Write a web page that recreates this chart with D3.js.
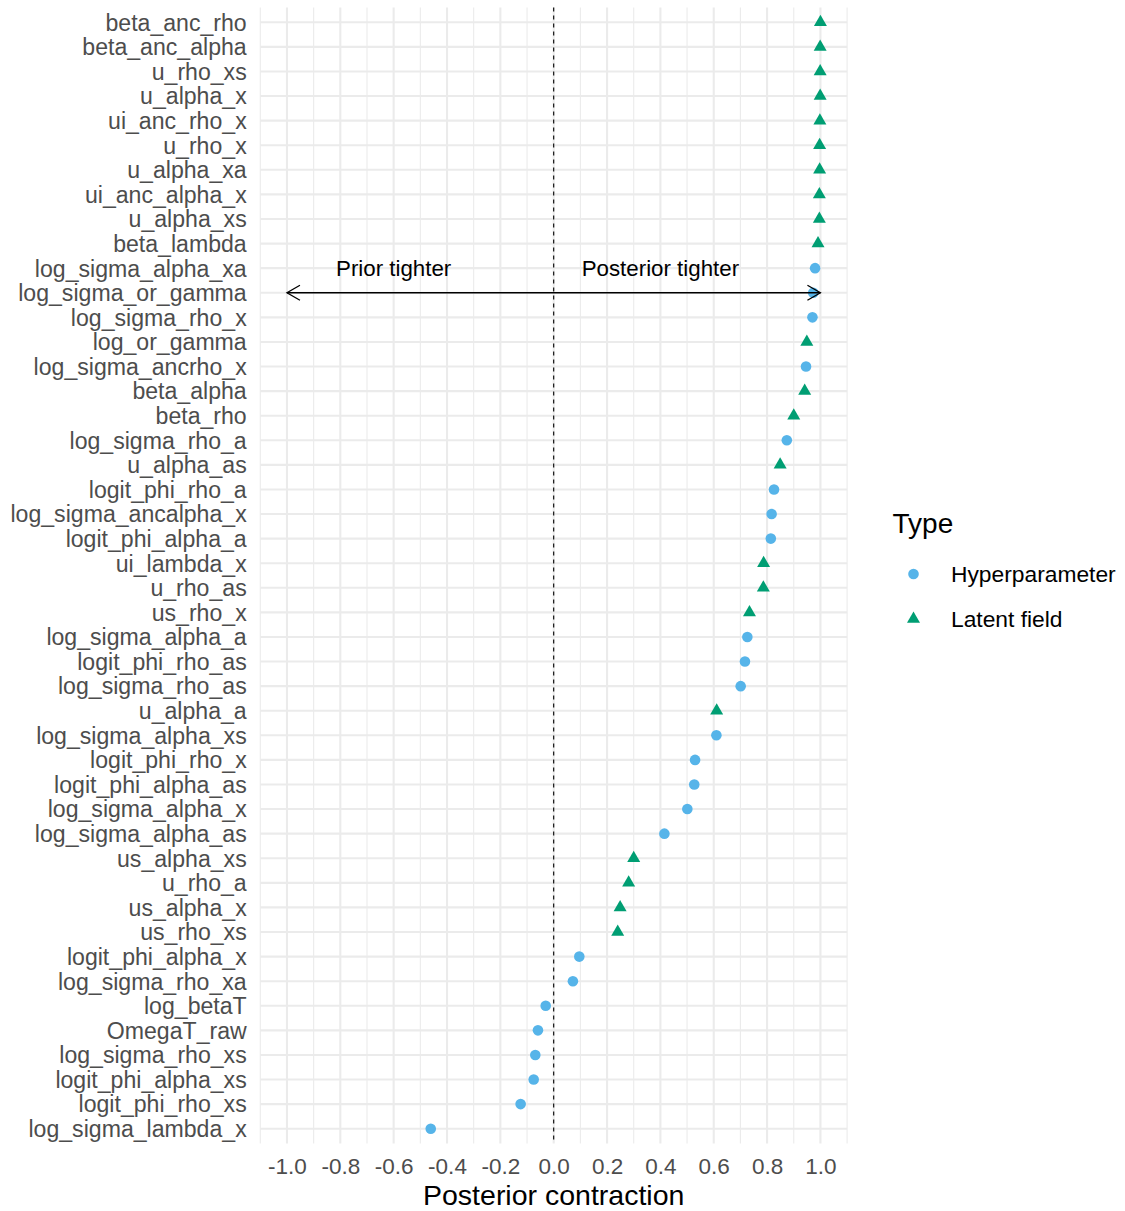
<!DOCTYPE html>
<html>
<head>
<meta charset="utf-8">
<script src="https://cdn.jsdelivr.net/npm/d3@7"></script>
<style>
  body { margin: 0; background: #ffffff; }
  svg { display: block; font-family: "Liberation Sans", Arial, Helvetica, sans-serif; }
</style>
</head>
<body>
<svg id="chart" width="1125" height="1211"></svg>
<script>
// Parameters, listed top to bottom as they appear on the y axis
const parameters = [
  "beta_anc_rho", "beta_anc_alpha", "u_rho_xs", "u_alpha_x", "ui_anc_rho_x",
  "u_rho_x", "u_alpha_xa", "ui_anc_alpha_x", "u_alpha_xs", "beta_lambda",
  "log_sigma_alpha_xa", "log_sigma_or_gamma", "log_sigma_rho_x", "log_or_gamma",
  "log_sigma_ancrho_x", "beta_alpha", "beta_rho", "log_sigma_rho_a", "u_alpha_as",
  "logit_phi_rho_a", "log_sigma_ancalpha_x", "logit_phi_alpha_a", "ui_lambda_x",
  "u_rho_as", "us_rho_x", "log_sigma_alpha_a", "logit_phi_rho_as", "log_sigma_rho_as",
  "u_alpha_a", "log_sigma_alpha_xs", "logit_phi_rho_x", "logit_phi_alpha_as",
  "log_sigma_alpha_x", "log_sigma_alpha_as", "us_alpha_xs", "u_rho_a", "us_alpha_x",
  "us_rho_xs", "logit_phi_alpha_x", "log_sigma_rho_xa", "log_betaT", "OmegaT_raw",
  "log_sigma_rho_xs", "logit_phi_alpha_xs", "logit_phi_rho_xs", "log_sigma_lambda_x"
];

// Posterior contraction for each parameter
const contraction = [
  1.000, 0.999, 0.999, 0.999, 0.998,
  0.997, 0.997, 0.996, 0.996, 0.991,
  0.980, 0.973, 0.970, 0.949,
  0.946, 0.941, 0.900, 0.874, 0.849,
  0.826, 0.817, 0.814, 0.787,
  0.786, 0.734, 0.726, 0.717, 0.701,
  0.611, 0.610, 0.530, 0.527,
  0.501, 0.415, 0.300, 0.281, 0.249,
  0.240, 0.096, 0.072, -0.030, -0.059,
  -0.069, -0.075, -0.124, -0.461
];

// Parameter type for each row
const paramType = [
  "Latent field", "Latent field", "Latent field", "Latent field", "Latent field",
  "Latent field", "Latent field", "Latent field", "Latent field", "Latent field",
  "Hyperparameter", "Hyperparameter", "Hyperparameter", "Latent field",
  "Hyperparameter", "Latent field", "Latent field", "Hyperparameter", "Latent field",
  "Hyperparameter", "Hyperparameter", "Hyperparameter", "Latent field",
  "Latent field", "Latent field", "Hyperparameter", "Hyperparameter", "Hyperparameter",
  "Latent field", "Hyperparameter", "Hyperparameter", "Hyperparameter",
  "Hyperparameter", "Hyperparameter", "Latent field", "Latent field", "Latent field",
  "Latent field", "Hyperparameter", "Hyperparameter", "Hyperparameter", "Hyperparameter",
  "Hyperparameter", "Hyperparameter", "Hyperparameter", "Hyperparameter"
];

const typeLevels = ["Hyperparameter", "Latent field"];
const typeColors = ["#56B4E9", "#009E73"];

const xTicks = [-1.0, -0.8, -0.6, -0.4, -0.2, 0.0, 0.2, 0.4, 0.6, 0.8, 1.0];
const xMinorTicks = [-1.1, -0.9, -0.7, -0.5, -0.3, -0.1, 0.1, 0.3, 0.5, 0.7, 0.9, 1.1];
const xDomain = [-1.1, 1.1];

// Direction annotation: arrow span and its two labels
const arrowSpan = [-1.0, 1.0];
const arrowRow = "log_sigma_or_gamma";
const annotationLabels = ["Prior tighter", "Posterior tighter"];
const annotationX = [-0.6, 0.4];
const annotationRow = "log_sigma_alpha_xa";

const xTitle = "Posterior contraction";
const legendTitle = "Type";

// ---------------------------------------------------------------
const rows = parameters.map((p, i) => ({ param: p, value: contraction[i], type: paramType[i] }));

const panel = { left: 260.3, right: 847.1, top: 7.55, bottom: 1143.45 };

const svg = d3.select("#chart");
svg.append("rect").attr("width", 1125).attr("height", 1211).attr("fill", "#ffffff");

const x = d3.scaleLinear().domain(xDomain).range([panel.left, panel.right]);
const y = d3.scalePoint().domain(parameters).range([panel.top, panel.bottom]).padding(0.6);
const color = d3.scaleOrdinal().domain(typeLevels).range(typeColors);

const triR = 7.5;
const shapePath = (type) => {
  if (type === "Latent field") {
    const hw = triR * Math.sqrt(3) / 2;
    return `M0,${-triR}L${hw},${triR / 2}L${-hw},${triR / 2}Z`;
  }
  return d3.symbol(d3.symbolCircle, Math.PI * 5.3 * 5.3)();
};

// Grid
const grid = svg.append("g").attr("class", "grid");
grid.selectAll("line.minor-x").data(xMinorTicks).join("line")
  .attr("class", "minor-x")
  .attr("x1", d => x(d)).attr("x2", d => x(d))
  .attr("y1", panel.top).attr("y2", panel.bottom)
  .attr("stroke", "#EBEBEB").attr("stroke-width", 1.1);
grid.selectAll("line.major-x").data(xTicks).join("line")
  .attr("class", "major-x")
  .attr("x1", d => x(d)).attr("x2", d => x(d))
  .attr("y1", panel.top).attr("y2", panel.bottom)
  .attr("stroke", "#EBEBEB").attr("stroke-width", 2.1);
grid.selectAll("line.major-y").data(parameters).join("line")
  .attr("class", "major-y")
  .attr("x1", panel.left).attr("x2", panel.right)
  .attr("y1", d => y(d)).attr("y2", d => y(d))
  .attr("stroke", "#EBEBEB").attr("stroke-width", 2.1);

// Zero reference line
svg.append("line")
  .attr("x1", x(0)).attr("x2", x(0))
  .attr("y1", panel.top).attr("y2", panel.bottom)
  .attr("stroke", "#000").attr("stroke-width", 1.1)
  .attr("stroke-dasharray", "4,4");

// Points
svg.append("g").selectAll("path").data(rows).join("path")
  .attr("transform", d => `translate(${x(d.value)},${y(d.param)})`)
  .attr("d", d => shapePath(d.type))
  .attr("fill", d => color(d.type));

// Double-headed arrow
const ay = y(arrowRow);
const head = 15, ang = Math.PI / 6;
const hx = head * Math.cos(ang), hy = head * Math.sin(ang);
const arrow = svg.append("g").attr("fill", "none").attr("stroke", "#000")
  .attr("stroke-width", 1.3).attr("stroke-linecap", "butt");
const ax0 = x(arrowSpan[0]), ax1 = x(arrowSpan[1]);
arrow.append("line").attr("x1", ax0).attr("x2", ax1).attr("y1", ay).attr("y2", ay);
arrow.append("path").attr("d", `M${ax0 + hx},${ay - hy}L${ax0},${ay}L${ax0 + hx},${ay + hy}`);
arrow.append("path").attr("d", `M${ax1 - hx},${ay - hy}L${ax1},${ay}L${ax1 - hx},${ay + hy}`);

// Annotation labels
svg.append("g").selectAll("text").data(annotationLabels).join("text")
  .attr("x", (d, i) => x(annotationX[i]))
  .attr("y", y(annotationRow))
  .attr("dy", "0.36em")
  .attr("text-anchor", "middle")
  .attr("font-size", 22.3)
  .attr("fill", "#000")
  .text(d => d);

// X axis
const xAxis = svg.append("g")
  .attr("transform", `translate(0,${panel.bottom})`)
  .call(d3.axisBottom(x).tickValues(xTicks).tickSize(0).tickPadding(15).tickFormat(d => d.toFixed(1)));
xAxis.select(".domain").remove();
xAxis.selectAll("text")
  .attr("font-size", 22.5)
  .attr("font-family", "Liberation Sans, Arial, sans-serif")
  .attr("fill", "#4D4D4D");

// Y axis
const yAxis = svg.append("g")
  .attr("transform", `translate(${panel.left},0)`)
  .call(d3.axisLeft(y).tickSize(0).tickPadding(13.6));
yAxis.select(".domain").remove();
yAxis.selectAll("text")
  .attr("font-size", 23.1)
  .attr("font-family", "Liberation Sans, Arial, sans-serif")
  .attr("dy", "0.34em")
  .attr("fill", "#4D4D4D");

// X axis title
svg.append("text")
  .attr("x", x(0))
  .attr("y", 1205)
  .attr("text-anchor", "middle")
  .attr("font-size", 28.5)
  .attr("fill", "#000")
  .text(xTitle);

// Legend
const legend = svg.append("g").attr("transform", "translate(892.5,0)");
legend.append("text")
  .attr("x", 0).attr("y", 533)
  .attr("font-size", 28)
  .attr("fill", "#000")
  .text(legendTitle);
const legendY = [574, 619];
const legendItems = legend.selectAll("g.item").data(typeLevels).join("g")
  .attr("class", "item")
  .attr("transform", (d, i) => `translate(0,${legendY[i]})`);
legendItems.append("path")
  .attr("transform", "translate(21,0)")
  .attr("d", d => shapePath(d))
  .attr("fill", d => color(d));
legendItems.append("text")
  .attr("x", 58.5).attr("y", 0)
  .attr("dy", "0.36em")
  .attr("font-size", 22.8)
  .attr("fill", "#000")
  .text(d => d);
</script>
</body>
</html>
